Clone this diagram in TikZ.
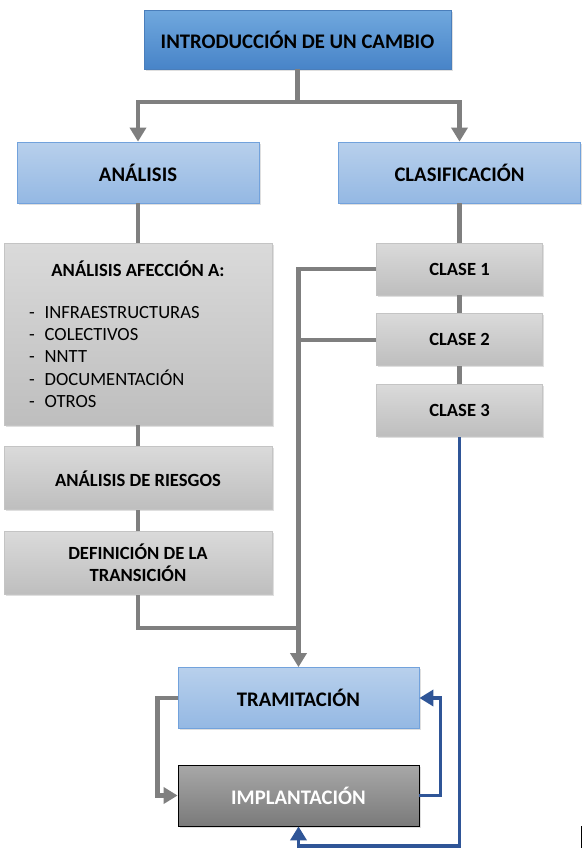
\documentclass[tikz,border=0pt]{standalone}
\usepackage{fontspec}
\setmainfont{Carlito}
\usetikzlibrary{shapes,arrows.meta,positioning,shadows}

\definecolor{introtop}{HTML}{70A8DE}
\definecolor{introbot}{HTML}{4884C8}
\definecolor{introline}{HTML}{4A7EBB}
\definecolor{lighttop}{HTML}{B8D0EC}
\definecolor{lightbot}{HTML}{94B8E3}
\definecolor{lightline}{HTML}{72A2DC}
\definecolor{greytop}{HTML}{DADADA}
\definecolor{greybot}{HTML}{BEBEBE}
\definecolor{greyline}{HTML}{C4C4C4}
\definecolor{darktop}{HTML}{A8A8A8}
\definecolor{darkbot}{HTML}{7A7A7A}
\definecolor{linkgrey}{HTML}{7F7F7F}
\definecolor{linkblue}{HTML}{2F5597}

\begin{document}
\begin{tikzpicture}[x=1pt,y=-1pt,align=center,
  box/.style={rectangle,inner sep=0pt,line width=0.8pt,drop shadow={opacity=0.25,shadow xshift=1.5pt,shadow yshift=-1.5pt}},
  intro node/.style={box,draw=introline,top color=introtop,bottom color=introbot,minimum width=307pt,minimum height=59pt,font=\fontsize{20.7}{24}\selectfont\bfseries},
  head node/.style={box,draw=lightline,top color=lighttop,bottom color=lightbot,minimum width=242pt,minimum height=61pt,font=\fontsize{20.7}{24}\selectfont\bfseries},
  grey node/.style={box,draw=greyline,top color=greytop,bottom color=greybot,minimum width=268pt,minimum height=63pt,font=\fontsize{18.6}{22}\selectfont\bfseries},
  class node/.style={grey node,minimum width=166pt,minimum height=52pt},
  dark node/.style={box,draw=black,top color=darktop,bottom color=darkbot,text=white,minimum width=241pt,minimum height=61pt,font=\fontsize{20.7}{24}\selectfont\bfseries},
  link/.style={draw=linkgrey,line width=4.5pt},
  blue link/.style={draw=linkblue,line width=3.5pt},
  tip/.style={-{Triangle[width=16pt,length=14pt]}}]

  \useasboundingbox[fill=white] (0,0) rectangle (585,854);

  \node[intro node] (intro) at (297.5,39.5) {INTRODUCCIÓN DE UN CAMBIO};
  \node[head node] (ana) at (138,172.5) {ANÁLISIS};
  \node[head node] (clas) at (459.5,172.5) {CLASIFICACIÓN};

  \node[grey node,minimum height=182pt,text width=240pt,inner xsep=14pt,align=left,font=\fontsize{18.6}{22.3}\selectfont] (afec) at (138,334)
    {{\spaceskip=0pt\xspaceskip=0pt\centering\bfseries ANÁLISIS AFECCIÓN A:\par}\vspace{20pt}
     \hspace*{11pt}-\hspace{10pt}INFRAESTRUCTURAS\\
     \hspace*{11pt}-\hspace{10pt}COLECTIVOS\\
     \hspace*{11pt}-\hspace{10pt}NNTT\\
     \hspace*{11pt}-\hspace{10pt}DOCUMENTACIÓN\\
     \hspace*{11pt}-\hspace{10pt}OTROS};
  \node[grey node] (ries) [below=21pt of afec] {ANÁLISIS DE RIESGOS};
  \node[grey node] (defi) [below=21pt of ries] {DEFINICIÓN DE LA\\TRANSICIÓN};

  \node[class node] (c1) at (459.5,269) {CLASE 1};
  \node[class node] (c2) [below=18pt of c1] {CLASE 2};
  \node[class node] (c3) [below=18pt of c2] {CLASE 3};

  \node[head node,minimum width=241pt] (tram) at (298.5,698) {TRAMITACIÓN};
  \node[dark node] (impl) at (298.5,795.5) {IMPLANTACIÓN};

  \coordinate (top) at (297.5,102);
  \coordinate (meet) at (298.5,628);
  \coordinate (low) at (298.5,846);

  % top split
  \draw[link] (intro) -- (top);
  \draw[link,tip] (top) -| (ana);
  \draw[link,tip] (top) -| (clas);

  % left column
  \draw[link] (ana) -- (afec);
  \draw[link] (afec) -- (ries);
  \draw[link] (ries) -- (defi);
  \draw[link] (defi) |- (meet);

  % right column
  \draw[link] (clas) -- (c1);
  \draw[link] (c1) -- (c2);
  \draw[link] (c2) -- (c3);
  \draw[link] (c1.west) -| (meet);
  \draw[link] (c2.west) -- (c2.west -| meet);
  \draw[link,tip] (meet) -- (tram);

  % loop
  \draw[link,tip] (tram.west) -- ++(-20,0) |- (impl.west);
  \draw[blue link,tip] (impl.east) -- ++(21,0) |- (tram.east);
  \draw[blue link,tip] (c3.south) |- (low) -- (impl.south);

  \draw[black,line width=1pt] (581,826) -- (581,848);
\end{tikzpicture}
\end{document}
